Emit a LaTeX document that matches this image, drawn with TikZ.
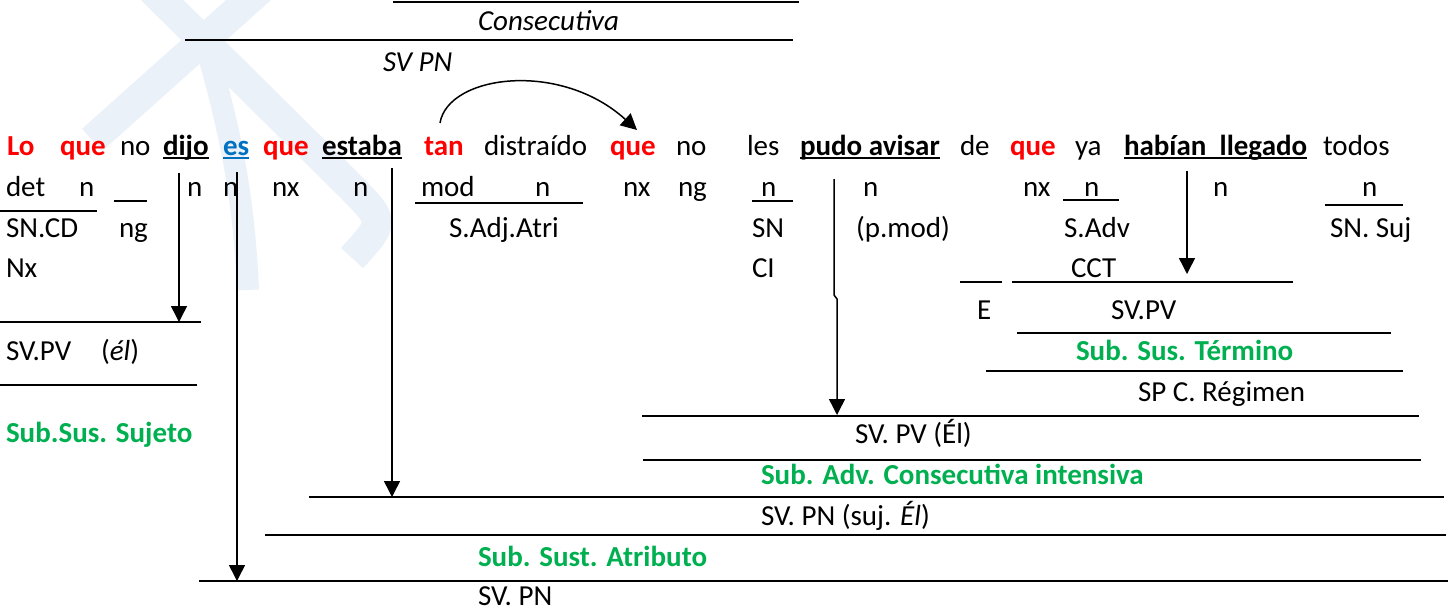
\documentclass[tikz,border=0pt]{standalone}
\usepackage{fontspec}
\setmainfont{Carlito}
\usetikzlibrary{arrows.meta}
\definecolor{wred}{RGB}{255,0,0}
\definecolor{wblue}{RGB}{0,112,192}
\definecolor{wgreen}{RGB}{0,176,80}
\definecolor{wmark}{RGB}{235,241,249}
\newcommand\diagfont{\fontsize{29}{34}\selectfont}
\tikzset{
  t/.style={anchor=base west, inner sep=0pt, outer sep=0pt, font=\diagfont},
  tb/.style={t, font=\diagfont\bfseries},
  ti/.style={t, font=\diagfont\itshape},
  rb/.style={tb, text=wred},
  gb/.style={tb, text=wgreen},
  ln/.style={line width=1.5pt},
  ul/.style={line width=1.4pt},
  arr/.style={line width=1.5pt, -{Triangle[length=16pt,width=16pt]}},
  wm/.style={draw=wmark, line width=30pt, line cap=butt},
}
\begin{document}
\begin{tikzpicture}[x=1pt,y=-1pt]
\useasboundingbox (0,0) rectangle (1456,610);
% watermark
\draw[wm] (150,-12) -- (352,188) .. controls (385,222) .. (352,258);
\draw[wm] (262,-12) -- (92,140);
\draw[wm, line width=22pt] (210,60) .. controls (232,140) and (244,200) .. (248,290);

% top
\draw[ln] (393,2) -- (799,2);
\node[ti] (consec) at (478,31) {Consecutiva};
\draw[ln] (185,40) -- (793,40);
\node[ti] (svpntop) at (383,71) {SV PN};

% row 1
\node[rb] (w1) at (7,155) {Lo};
\node[rb] (w2) at (60,155) {que};
\node[t]  (w3) at (120,155) {no};
\node[tb] (w4) at (163,155) {dijo};
\node[tb, text=wblue] (w5) at (223,155) {es};
\node[rb] (w6) at (263,155) {que};
\node[tb] (w7) at (322,155) {estaba};
\node[rb] (w8) at (424,155) {tan};
\node[t]  (w9) at (484,155) {distraído};
\node[rb] (w10) at (610,155) {que};
\node[t]  (w11) at (676,155) {no};
\node[t]  (w12) at (747,155) {les};
\node[tb] (w13) at (800,155) {pudo avisar};
\node[t]  (w14) at (960,155) {de};
\node[rb] (w15) at (1010,155) {que};
\node[t]  (w16) at (1075,155) {ya};
\node[tb] (w17) at (1124,155) {habían~~llegado};
\node[t]  (w18) at (1323,155) {todos};
\foreach \w in {w4,w7,w13,w17}
  \draw[ul] ([yshift=-3pt]\w.base west) -- ([yshift=-3pt]\w.base east);
\draw[ul, wblue] ([yshift=-3pt]w5.base west) -- ([yshift=-3pt]w5.base east);

% curved arrow tan -> que
\coordinate (ca) at (440,123);
\coordinate (cb) at (637,130);
\draw[arr] (ca) .. controls (448,75) and (560,60) .. (cb);

% row 2
\node[t] (r2a) at (6,196) {det};
\node[t] (r2b) at (79,196) {n};
\draw[ln] (114,201) -- (147,201);
\node[t] (r2c) at (187,196) {n};
\node[t] (r2d) at (223,196) {n};
\node[t] (r2e) at (272,196) {nx};
\node[t] (r2f) at (353,196) {n};
\node[t] (r2g) at (421,196) {mod};
\node[t] (r2h) at (535,196) {n};
\node[t] (r2i) at (623,196) {nx};
\node[t] (r2j) at (678,196) {ng};
\node[t] (r2k) at (761,196) {n};
\draw[ln] (752,201) -- (793,201);
\node[t] (r2l) at (863,196) {n};
\node[t] (r2m) at (1023,196) {nx};
\node[t] (r2n) at (1084,196) {n};
\draw[ln] (1063,200) -- (1119,200);
\node[t] (r2o) at (1213,196) {n};
\node[t] (r2p) at (1362,196) {n};
\draw[ln] (1325,205) -- (1403,205);
\draw[ln] (0,211) -- (97,211);
\draw[ln] (415,203) -- (583,203);

% row 3
\node[t] (r3a) at (6,237) {SN.CD};
\node[t] (r3b) at (119,237) {ng};
\node[t] (r3c) at (449,237) {S.Adj.Atri};
\node[t] (r3d) at (752,237) {SN};
\node[t] (r3e) at (856,237) {(p.mod)};
\node[t] (r3f) at (1064,237) {S.Adv};
\node[t] (r3g) at (1330,237) {SN. Suj};

% row 4
\node[t] (r4a) at (6,277) {Nx};
\node[t] (r4b) at (752,277) {CI};
\node[t] (r4c) at (1071,277) {CCT};
\draw[ln] (960,282) -- (1002,282);
\draw[ln] (1012,282) -- (1293,282);

% row 5 and below
\draw[ln] (0,322) -- (201,322);
\node[t] (r5a) at (977,319) {E};
\node[t] (r5b) at (1111,319) {SV.PV};
\draw[ln] (1017,333) -- (1391,333);
\node[t] (r6a) at (6,360) {SV.PV};
\node[t] (r6b) at (101,360) {(\textit{él})};
\node[gb] (r6c) at (1076,360) {Sub. Sus. Término};
\draw[ln] (986,371) -- (1403,371);
\draw[ln] (0,385) -- (197,385);
\node[t] (r7a) at (1138,401) {SP C. Régimen};
\draw[ln] (642,416) -- (1419,416);
\node[gb] (r8a) at (6,442) {Sub.Sus. Sujeto};
\node[t] (r8b) at (855,443) {SV. PV (Él)};
\draw[ln] (643,460) -- (1421,460);
\node[gb] (r9a) at (761,484) {Sub. Adv. Consecutiva intensiva};
\draw[ln] (309,497) -- (1444,497);
\node[t] (r10a) at (761,525) {SV. PN (suj. \textit{Él})};
\draw[ln] (265,535) -- (1446,535);
\node[gb] (r11a) at (478,566) {Sub. Sust. Atributo};
\draw[ln] (199,581) -- (1448,581);
\node[t] (r12a) at (478,605) {SV. PN};

% vertical arrows
\coordinate (a1s) at (179,173); \coordinate (a1e) at (179,322);
\draw[arr] (a1s) -- (a1e);
\coordinate (a2s) at (237,172); \coordinate (a2e) at (237,581);
\draw[arr] (a2s) -- (a2e);
\coordinate (a3s) at (392,168); \coordinate (a3e) at (392,497);
\draw[arr] (a3s) -- (a3e);
\coordinate (a4s) at (834,179); \coordinate (a4e) at (837,415);
\draw[arr] (a4s) -- (834,295) -- (837,299) -- (a4e);
\coordinate (a5s) at (1187,171); \coordinate (a5e) at (1187,274);
\draw[arr] (a5s) -- (a5e);
\end{tikzpicture}
\end{document}
